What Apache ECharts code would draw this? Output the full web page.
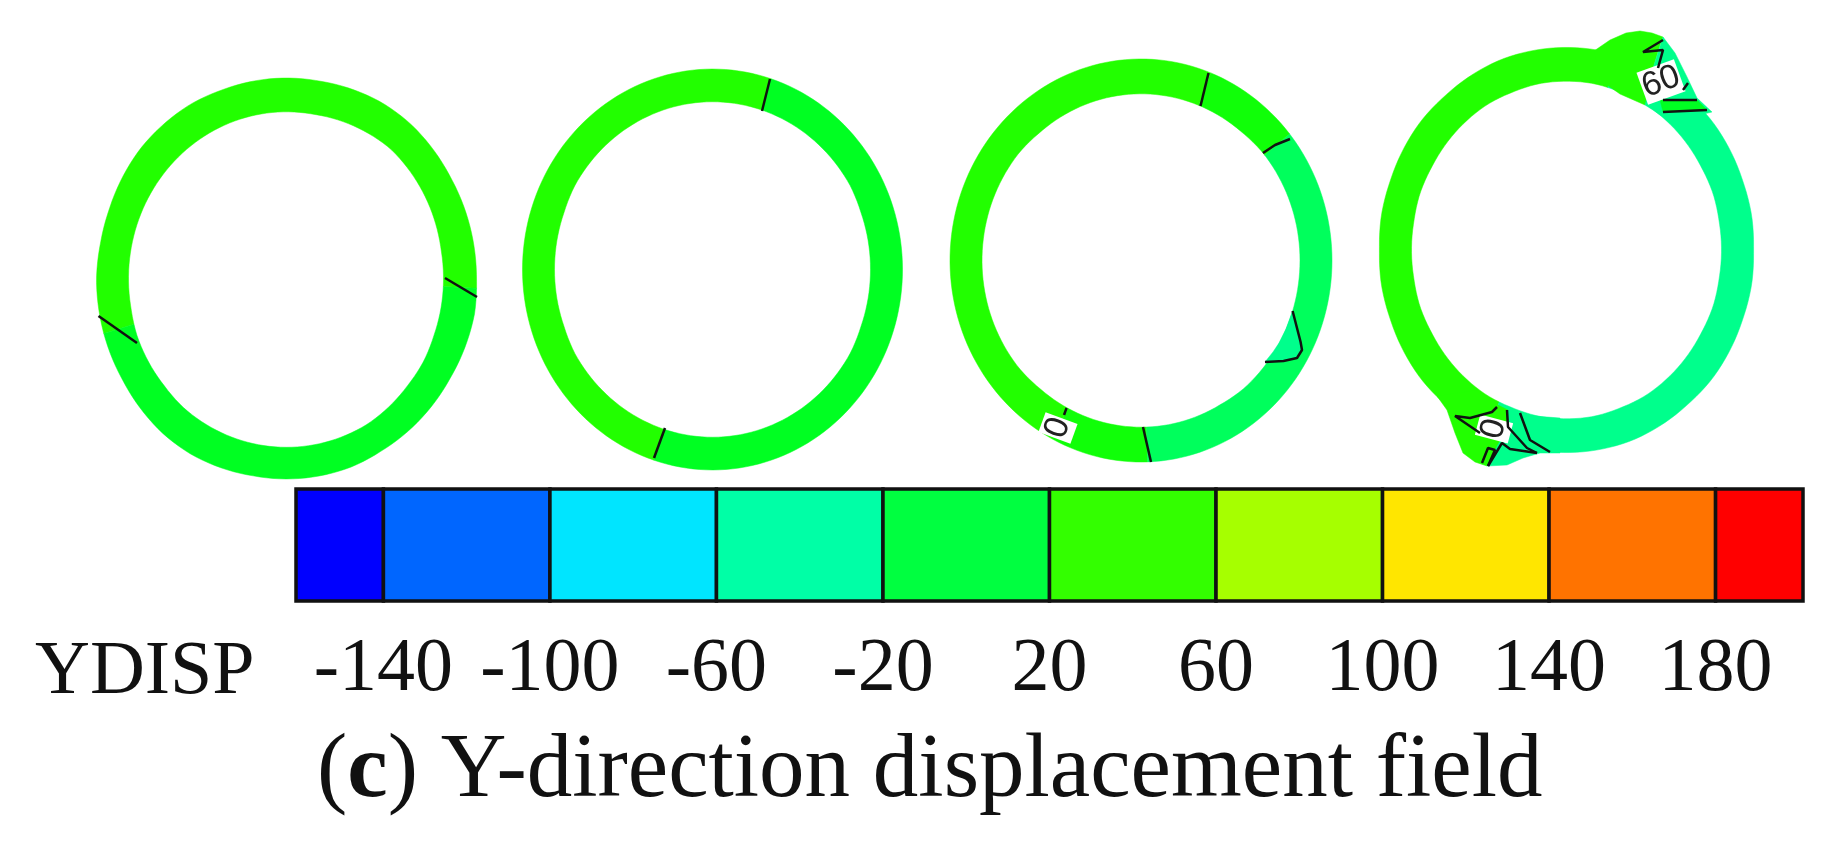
<!DOCTYPE html>
<html>
<head>
<meta charset="utf-8">
<script src="https://cdn.jsdelivr.net/npm/echarts@6/dist/echarts.min.js"></script>
<style>
  html, body { margin: 0; padding: 0; background: #fff; }
  #main_chart { width: 1846px; height: 856px; }
</style>
</head>
<body>
<div id="main_chart"></div>
<script>
// colour scale
var levelEdges = [-161, -140, -100, -60, -20, 20, 60, 100, 140, 180, 201];
var levelColors = ['#0000ff', '#0066ff', '#00e5ff', '#00ffa6', '#00ff40', '#33ff00', '#a6ff00', '#ffe600', '#ff7300', '#ff0000'];
var levelTicks = [-140, -100, -60, -20, 20, 60, 100, 140, 180];

// ring wall readings, every 10 degrees from 3 o'clock going anticlockwise
var ring1Outer = [190, 190, 190, 190, 191, 192, 192, 191, 190, 190, 190, 190, 191, 191, 191, 190, 189, 189, 190, 190, 190, 190, 191, 192, 192, 191, 190, 190, 190, 190, 189, 189, 189, 189, 190, 191];
var ring1Inner = [157, 157, 158, 159, 160, 161, 160, 159, 158, 158, 158, 158, 158, 158, 158, 158, 158, 158, 158, 158, 159, 159, 159, 160, 160, 160, 160, 160, 160, 160, 160, 159, 158, 158, 157, 157];
var ring2Outer = [190, 190, 190, 190, 190, 190, 190, 190, 190, 190, 190, 190, 190, 190, 190, 190, 190, 190, 190, 190, 190, 190, 190, 190, 190, 190, 190, 190, 190, 190, 190, 190, 190, 190, 190, 190];
var ring2Inner = [158, 158, 158, 159, 159, 159, 159, 159, 159, 159, 159, 159, 159, 159, 159, 159, 158, 158, 158, 158, 158, 159, 159, 159, 159, 159, 159, 159, 159, 159, 159, 159, 159, 159, 158, 158];
var ring3Outer = [191, 191, 191, 191, 191, 191, 191, 191, 191, 191, 191, 191, 191, 191, 191, 191, 191, 191, 191, 191, 191, 191, 191, 191, 191, 191, 191, 191, 191, 191, 191, 191, 191, 191, 191, 191];
var ring3Inner = [159, 159, 159, 159, 159, 158, 158, 158, 158, 158, 158, 158, 158, 158, 159, 159, 159, 159, 159, 159, 159, 159, 159, 158, 158, 158, 158, 158, 158, 158, 158, 159, 159, 159, 159, 159];
var ring4Outer = [187, 188, 188, 189, 190, 190, 191, 192, 192, 192, 192, 192, 191, 190, 190, 189, 188, 188, 187, 188, 188, 189, 190, 190, 191, 192, 192, 192, 192, 192, 191, 190, 190, 189, 188, 188];
var ring4Inner = [155, 155, 156, 156, 157, 158, 159, 159, 160, 160, 160, 159, 159, 158, 157, 156, 156, 155, 155, 155, 156, 156, 157, 158, 159, 159, 160, 160, 160, 159, 159, 158, 157, 156, 156, 155];

// contour bands on the rings: ring, from angle, to angle, band
var ringZones = [
  [0, 357.2, 555.9, 0],
  [0, 195.9, 357.2, 2],
  [1, 72.1, 252.1, 0],
  [1, 252.1, 432.1, 2],
  [2, 68.6, 242.4, 0],
  [2, 242.4, 272, 1],
  [2, 272, 399, 3],
  [2, 39, 68.6, 1],
  [3, 75, 245, 0],
  [3, 245, 435, 4]
];
var zoneBands = ['#22ff00', '#10ff08', '#00ff22', '#00ff5c', '#00ff8c'];

// patches that leave the ring outline, [band, points]
var patches = [
  [4, [[1292.6, 311], [1300.6, 342], [1302, 350], [1297, 358], [1283.5, 361], [1265, 362], [1273, 352], [1279, 343], [1286, 329]]],
  [0, [[1594, 51], [1610, 40], [1626, 33], [1640, 31], [1652, 33], [1663, 37], [1660, 45], [1654, 65], [1650, 88], [1645, 105], [1620, 94], [1600, 80]]],
  [4, [[1663, 37], [1675, 53], [1687, 77], [1697, 98], [1712, 112], [1670, 122], [1653, 110], [1645, 105], [1650, 88], [1654, 65]]],
  [2, [[1660, 100], [1697, 100], [1707, 110], [1663, 112]]],
  [0, [[1437, 396], [1447, 410], [1455, 433], [1463, 453], [1475, 462], [1487, 466], [1495, 450], [1510, 435], [1508, 410], [1498, 405], [1478, 390]]],
  [4, [[1487, 466], [1507, 465], [1523, 458], [1540, 453], [1560, 453], [1560, 418], [1520, 415], [1508, 410], [1508, 427], [1495, 450]]]
];

// contour lines
var contourLines = [
  [[445, 278], [477, 297]],
  [[98.5, 316], [137, 343]],
  [[770, 79], [762, 111]],
  [[665, 428], [654, 458]],
  [[1208.5, 73], [1200.5, 106]],
  [[1290, 139], [1275, 145], [1263, 153]],
  [[1292.6, 311], [1300.6, 342], [1302, 350], [1297, 358], [1283.5, 361], [1265, 362]],
  [[1143, 427], [1151, 462]],
  [[1066.6, 408], [1064, 415]],
  [[1663, 40], [1643, 52], [1663, 50], [1658, 68]],
  [[1683, 90], [1688, 83]],
  [[1663, 100], [1697, 100]],
  [[1663, 112], [1707, 110]],
  [[1497, 407], [1492, 412], [1470, 418], [1455, 416], [1480, 433]],
  [[1507, 410], [1508, 427], [1527, 448], [1537, 453]],
  [[1520, 413], [1530, 440], [1550, 452]],
  [[1482, 463], [1488, 448], [1495, 450], [1488, 466]],
  [[1488, 466], [1502, 443], [1510, 449], [1537, 453]]
];

// contour labels
var contourLabelText = ['0', '60', '0'];
var contourLabelX = [1058, 1661, 1494];
var contourLabelY = [428, 82, 429];
var contourLabelAngle = [70, 20, 75];

var RING_CENTERS = [[286.5, 278.5], [712.5, 269.5], [1141, 260.5], [1566.5, 250]];
var RING_WALLS = [[ring1Outer, ring1Inner], [ring2Outer, ring2Inner], [ring3Outer, ring3Inner], [ring4Outer, ring4Inner]];
var Y_STRETCH = 1.055; // the picture is a little taller than wide
var ARC_STEP = 2; // degrees per polygon side

function radiusAt(list, deg) {
  var d = ((deg % 360) + 360) % 360;
  var i = Math.floor(d / 10);
  var t = d / 10 - i;
  return list[i] * (1 - t) + list[(i + 1) % 36] * t;
}

function renderZone(params, api) {
  var ring = api.value(0), from = api.value(1), to = api.value(2);
  var angles = [];
  for (var a = from; a < to; a += ARC_STEP) angles.push(a);
  angles.push(to);
  var c = RING_CENTERS[ring], walls = RING_WALLS[ring];
  var point = function (deg, wall) {
    var r = radiusAt(wall, deg), rad = deg * Math.PI / 180;
    return api.coord([c[0] + r * Math.cos(rad), c[1] - r * Math.sin(rad) * Y_STRETCH]);
  };
  var points = angles.map(function (d) { return point(d, walls[0]); })
    .concat(angles.slice().reverse().map(function (d) { return point(d, walls[1]); }));
  var color = zoneBands[api.value(3)];
  return { type: 'polygon', shape: { points: points }, style: { fill: color, stroke: color, lineWidth: 0.5 } };
}

function renderPatch(params, api) {
  var patch = patches[api.value(0)];
  var color = zoneBands[patch[0]];
  return {
    type: 'polygon',
    shape: { points: patch[1].map(function (p) { return api.coord(p); }) },
    style: { fill: color, stroke: color, lineWidth: 0.5 }
  };
}

function renderLevel(params, api) {
  var a = api.coord([api.value(0), 1]);
  var b = api.coord([api.value(1), 0]);
  return {
    type: 'rect',
    shape: { x: a[0], y: a[1], width: b[0] - a[0], height: b[1] - a[1] },
    style: { fill: levelColors[api.value(2)], stroke: '#111', lineWidth: 3.5 }
  };
}

var SERIF = '"Liberation Serif", serif';

var mychart = echarts.init(document.getElementById('main_chart'));

var series = [
  {
    type: 'custom', xAxisIndex: 0, yAxisIndex: 0, clip: false,
    renderItem: renderZone, data: ringZones, silent: true
  },
  {
    type: 'custom', xAxisIndex: 0, yAxisIndex: 0, clip: false,
    renderItem: renderPatch, data: patches.map(function (p, i) { return [i]; }), silent: true
  },
  {
    type: 'custom', xAxisIndex: 1, yAxisIndex: 1, clip: false,
    renderItem: renderLevel,
    data: levelColors.map(function (c, i) { return [levelEdges[i], levelEdges[i + 1], i]; }),
    silent: true
  },
  {
    type: 'scatter', xAxisIndex: 0, yAxisIndex: 0, symbolSize: 0, z: 3, silent: true,
    itemStyle: { opacity: 1 },
    data: contourLabelText.map(function (t, i) {
      return {
        value: [contourLabelX[i], contourLabelY[i]],
        label: {
          show: true, position: 'inside', formatter: t, rotate: contourLabelAngle[i], opacity: 1,
          fontFamily: '"Liberation Sans", sans-serif', fontSize: 34, color: '#222',
          backgroundColor: '#fff', padding: [0, 1]
        }
      };
    })
  }
];

contourLines.forEach(function (l) {
  series.push({
    type: 'line', xAxisIndex: 0, yAxisIndex: 0, data: l, showSymbol: false, silent: true, z: 4,
    lineStyle: { color: '#111', width: 2.5 }
  });
});

mychart.setOption({
  animation: false,
  backgroundColor: '#fff',
  title: [
    {
      text: 'YDISP', left: 30, top: 630,
      textStyle: { fontFamily: SERIF, fontSize: 76, fontWeight: 'normal', color: '#111' }
    },
    {
      text: '({b|c}){a| Y-direction displacement field}', left: 312, top: 722,
      textStyle: {
        rich: {
          a: { fontFamily: SERIF, fontSize: 91, color: '#111' },
          b: { fontFamily: SERIF, fontSize: 91, fontWeight: 'bold', color: '#111' }
        },
        fontFamily: SERIF, fontSize: 91, fontWeight: 'normal', color: '#111'
      }
    }
  ],
  grid: [
    { left: 0, right: 0, top: 0, bottom: 0 },
    { left: 296, top: 489, width: 1507, height: 112 }
  ],
  xAxis: [
    { type: 'value', gridIndex: 0, min: 0, max: 1846, show: false },
    {
      type: 'value', gridIndex: 1, min: -161, max: 201,
      axisLine: { show: false }, axisTick: { show: false }, splitLine: { show: false },
      axisLabel: {
        customValues: levelTicks, margin: 31,
        fontFamily: SERIF, fontSize: 76, color: '#111'
      }
    }
  ],
  yAxis: [
    { type: 'value', gridIndex: 0, min: 0, max: 856, inverse: true, show: false },
    { type: 'value', gridIndex: 1, min: 0, max: 1, show: false }
  ],
  series: series
});
</script>
</body>
</html>
